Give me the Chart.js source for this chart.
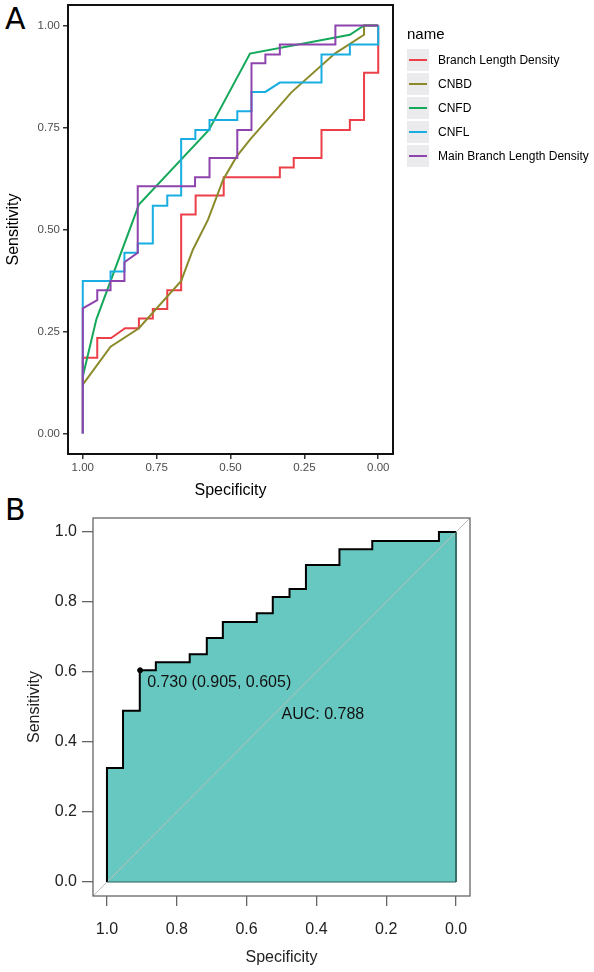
<!DOCTYPE html>
<html>
<head>
<meta charset="utf-8">
<script src="https://cdn.jsdelivr.net/npm/chart.js@4.4.1/dist/chart.umd.min.js"></script>
<style>
  body { margin: 0; width: 594px; height: 972px; background: #fff; position: relative; overflow: hidden; }
  canvas { position: absolute; left: 0; }
  #rocA { top: 0; }
  #rocB { top: 500px; }
  .panel { position: absolute; font-family: 'DejaVu Sans', sans-serif; font-size: 30px; line-height: 1; color: #000; }
</style>
</head>
<body>
<div class="panel" style="left:5px; top:4px;">A</div>
<div class="panel" style="left:5px; top:495px;">B</div>
<canvas id="rocA" width="594" height="500"></canvas>
<canvas id="rocB" width="594" height="472"></canvas>
<script>
// ---- panel A data (specificity / sensitivity pairs) ----
const seriesNames = ['Branch Length Density', 'CNBD', 'CNFD', 'CNFL', 'Main Branch Length Density'];
const seriesColors = ['#EC3F48', '#8A8A2A', '#14A85A', '#18AEE2', '#8E44AD'];

const bldSpec = [1, 1, 0.951, 0.951, 0.904, 0.857, 0.81, 0.81, 0.763, 0.763, 0.714, 0.714, 0.667, 0.667, 0.618, 0.618, 0.523, 0.523, 0.333, 0.333, 0.286, 0.286, 0.192, 0.192, 0.096, 0.096, 0.048, 0.048, 0, 0];
const bldSens = [0, 0.186, 0.186, 0.234, 0.234, 0.258, 0.258, 0.282, 0.282, 0.305, 0.305, 0.351, 0.351, 0.537, 0.537, 0.583, 0.583, 0.628, 0.628, 0.652, 0.652, 0.675, 0.675, 0.744, 0.744, 0.768, 0.768, 0.884, 0.884, 1];

const cnbdSpec = [1, 0.906, 0.81, 0.667, 0.627, 0.576, 0.525, 0.479, 0.434, 0.294, 0.147, 0.048, 0.048, 0];
const cnbdSens = [0.12, 0.213, 0.258, 0.374, 0.451, 0.524, 0.622, 0.679, 0.72, 0.836, 0.931, 0.977, 1, 1];

const cnfdSpec = [1, 0.954, 0.81, 0.573, 0.434, 0.096, 0.048, 0];
const cnfdSens = [0.14, 0.28, 0.561, 0.744, 0.931, 0.977, 1, 1];

const cnflSpec = [1, 1, 0.906, 0.906, 0.859, 0.859, 0.814, 0.814, 0.763, 0.763, 0.714, 0.714, 0.667, 0.667, 0.619, 0.619, 0.571, 0.571, 0.477, 0.477, 0.429, 0.429, 0.382, 0.333, 0.192, 0.192, 0.096, 0.096, 0, 0];
const cnflSens = [0, 0.374, 0.374, 0.397, 0.397, 0.443, 0.443, 0.466, 0.466, 0.558, 0.558, 0.583, 0.583, 0.722, 0.722, 0.744, 0.744, 0.768, 0.768, 0.79, 0.79, 0.837, 0.837, 0.86, 0.86, 0.929, 0.929, 0.953, 0.953, 1];

const mbldSpec = [1, 1, 0.951, 0.951, 0.906, 0.906, 0.859, 0.859, 0.814, 0.814, 0.62, 0.62, 0.571, 0.571, 0.477, 0.477, 0.429, 0.429, 0.382, 0.382, 0.333, 0.333, 0.145, 0.145, 0];
const mbldSens = [0, 0.307, 0.327, 0.351, 0.351, 0.374, 0.374, 0.42, 0.443, 0.606, 0.606, 0.628, 0.628, 0.675, 0.675, 0.744, 0.744, 0.907, 0.907, 0.929, 0.929, 0.953, 0.953, 1, 1];

const tickA = [0, 0.25, 0.5, 0.75, 1];

// ---- panel B data ----
const rocSpec = [1, 1, 0.954, 0.954, 0.906, 0.906, 0.86, 0.86, 0.763, 0.763, 0.714, 0.714, 0.668, 0.668, 0.571, 0.571, 0.525, 0.525, 0.477, 0.477, 0.43, 0.43, 0.334, 0.334, 0.24, 0.24, 0.049, 0.049, 0, 0, 1];
const rocSens = [0, 0.326, 0.326, 0.489, 0.489, 0.605, 0.605, 0.628, 0.628, 0.651, 0.651, 0.697, 0.697, 0.743, 0.743, 0.768, 0.768, 0.814, 0.814, 0.837, 0.837, 0.906, 0.906, 0.951, 0.951, 0.974, 0.974, 1, 1, 0, 0];
const bestThreshold = 0.730;
const bestSpec = 0.905;
const bestSens = 0.605;
const aucValue = 0.788;
const tickB = [0, 0.2, 0.4, 0.6, 0.8, 1];

Chart.defaults.font.family = "'Liberation Sans', Arial, sans-serif";
Chart.defaults.animation = false;

function zip(xs, ys) {
  return xs.map((x, i) => ({ x: x, y: ys[i] }));
}

// ---------------- A ----------------
const specsA = [bldSpec, cnbdSpec, cnfdSpec, cnflSpec, mbldSpec];
const sensA = [bldSens, cnbdSens, cnfdSens, cnflSens, mbldSens];

const legendA = {
  id: 'legendA',
  afterDraw(chart) {
    const c = chart.ctx;
    c.save();
    c.fillStyle = '#000';
    c.font = "15px 'Liberation Sans', Arial, sans-serif";
    c.textBaseline = 'middle';
    c.fillText('name', 407, 35);
    seriesNames.forEach((name, i) => {
      const yc = 60 + i * 24;
      c.fillStyle = '#EBEBEE';
      c.fillRect(407, yc - 11, 22, 22);
      c.strokeStyle = seriesColors[i];
      c.lineWidth = 2;
      c.beginPath();
      c.moveTo(409, yc);
      c.lineTo(427, yc);
      c.stroke();
      c.fillStyle = '#000';
      c.font = "12px 'Liberation Sans', Arial, sans-serif";
      c.fillText(name, 438, yc + 0.5);
    });
    c.restore();
  }
};

const boxPlugin = {
  id: 'box',
  afterDatasetsDraw(chart, args, opts) {
    const a = chart.chartArea;
    const c = chart.ctx;
    c.save();
    c.strokeStyle = opts.color;
    c.lineWidth = opts.width;
    c.strokeRect(a.left, a.top, a.right - a.left, a.bottom - a.top);
    c.restore();
  }
};

new Chart(document.getElementById('rocA'), {
  type: 'line',
  data: {
    datasets: seriesNames.map((name, i) => ({
      label: name,
      data: zip(specsA[i], sensA[i]),
      borderColor: seriesColors[i],
      borderWidth: 2,
      pointRadius: 0,
      fill: false,
      order: 5 - i
    }))
  },
  options: {
    responsive: false,
    layout: { padding: { top: 5, right: 201, left: 0, bottom: 0 } },
    plugins: { legend: { display: false }, tooltip: { enabled: false }, box: { color: '#111', width: 2 } },
    scales: {
      x: {
        type: 'linear',
        reverse: true,
        min: -0.05,
        max: 1.05,
        afterBuildTicks: s => { s.ticks = tickA.map(v => ({ value: v })); },
        afterFit: s => { s.height = 46; s.paddingLeft = 0; s.paddingRight = 0; },
        ticks: { callback: v => v.toFixed(2), color: '#4D4D4D', font: { size: 11.5 }, padding: 2, maxRotation: 0 },
        grid: { drawOnChartArea: false, drawTicks: true, tickLength: 5, color: '#333', lineWidth: 1.5 },
        border: { display: false },
        title: { display: true, text: 'Specificity', color: '#000', font: { size: 16 }, padding: { top: 0, bottom: 0 } }
      },
      y: {
        type: 'linear',
        min: -0.05,
        max: 1.05,
        afterBuildTicks: s => { s.ticks = tickA.map(v => ({ value: v })); },
        afterFit: s => { s.width = 68; s.paddingTop = 0; s.paddingBottom = 0; },
        ticks: { callback: v => v.toFixed(2), color: '#4D4D4D', font: { size: 11.5 }, padding: 3 },
        grid: { drawOnChartArea: false, drawTicks: true, tickLength: 5, color: '#333', lineWidth: 1.5 },
        border: { display: false },
        title: { display: true, text: 'Sensitivity', color: '#000', font: { size: 16 }, padding: { top: 4, bottom: 0 } }
      }
    }
  },
  plugins: [legendA, boxPlugin]
});

// ---------------- B ----------------
const lastRoc = rocSpec.length - 1;
const xMinB = -0.04, xMaxB = 1.04;

const labelsB = {
  id: 'labelsB',
  afterDatasetsDraw(chart) {
    const c = chart.ctx;
    const xs = chart.scales.x, ys = chart.scales.y;
    c.save();
    c.fillStyle = '#111';
    c.font = "16px 'Liberation Sans', Arial, sans-serif";
    c.textBaseline = 'middle';
    c.textAlign = 'left';
    const txt = bestThreshold.toFixed(3) + ' (' + bestSpec.toFixed(3) + ', ' + bestSens.toFixed(3) + ')';
    c.fillText(txt, xs.getPixelForValue(bestSpec) + 7, ys.getPixelForValue(bestSens) + 12);
    c.fillText('AUC: ' + aucValue.toFixed(3), xs.getPixelForValue(0.5), ys.getPixelForValue(0.5) + 8);
    c.restore();
  }
};

new Chart(document.getElementById('rocB'), {
  type: 'line',
  data: {
    datasets: [
      {
        label: 'threshold',
        data: [{ x: bestSpec, y: bestSens }],
        showLine: false,
        pointRadius: 2.5,
        pointBackgroundColor: '#000',
        pointBorderColor: '#000',
        order: 0
      },
      {
        label: 'ROC',
        data: zip(rocSpec, rocSens),
        borderColor: '#000',
        borderWidth: 2,
        backgroundColor: '#67C8C1',
        fill: 'origin',
        pointRadius: 0,
        segment: {
          borderColor: ctx => ctx.p0DataIndex >= lastRoc - 2 ? '#2E5E5A' : '#000',
          borderWidth: ctx => ctx.p0DataIndex >= lastRoc - 2 ? 1 : 2
        },
        order: 1
      },
      {
        label: 'chance',
        data: [{ x: xMaxB, y: 1 - xMaxB }, { x: xMinB, y: 1 - xMinB }],
        borderColor: '#BDBDBD',
        borderWidth: 1,
        pointRadius: 0,
        fill: false,
        order: 2
      }
    ]
  },
  options: {
    responsive: false,
    layout: { padding: { top: 18, right: 124, left: 0, bottom: 0 } },
    plugins: {
      legend: { display: false },
      tooltip: { enabled: false },
      filler: { drawTime: 'beforeDatasetsDraw' },
      box: { color: '#666', width: 1.3 }
    },
    scales: {
      x: {
        type: 'linear',
        reverse: true,
        min: xMinB,
        max: xMaxB,
        afterBuildTicks: s => { s.ticks = tickB.map(v => ({ value: v })); },
        afterFit: s => { s.height = 76; s.paddingLeft = 0; s.paddingRight = 0; },
        ticks: { callback: v => v.toFixed(1), color: '#222', font: { size: 16 }, padding: 14, maxRotation: 0 },
        grid: { drawOnChartArea: false, drawTicks: true, tickLength: 10, color: '#666', lineWidth: 1.3 },
        border: { display: false },
        title: { display: true, text: 'Specificity', color: '#222', font: { size: 16 }, padding: { top: 0, bottom: 5 } }
      },
      y: {
        type: 'linear',
        min: xMinB,
        max: xMaxB,
        afterBuildTicks: s => { s.ticks = tickB.map(v => ({ value: v })); },
        afterFit: s => { s.width = 93; s.paddingTop = 0; s.paddingBottom = 0; },
        ticks: { callback: v => v.toFixed(1), color: '#222', font: { size: 16 }, padding: 5 },
        grid: { drawOnChartArea: false, drawTicks: true, tickLength: 11, color: '#666', lineWidth: 1.3 },
        border: { display: false },
        title: { display: true, text: 'Sensitivity', color: '#222', font: { size: 16 }, padding: { top: 25, bottom: 0 } }
      }
    }
  },
  plugins: [boxPlugin, labelsB]
});
</script>
</body>
</html>
